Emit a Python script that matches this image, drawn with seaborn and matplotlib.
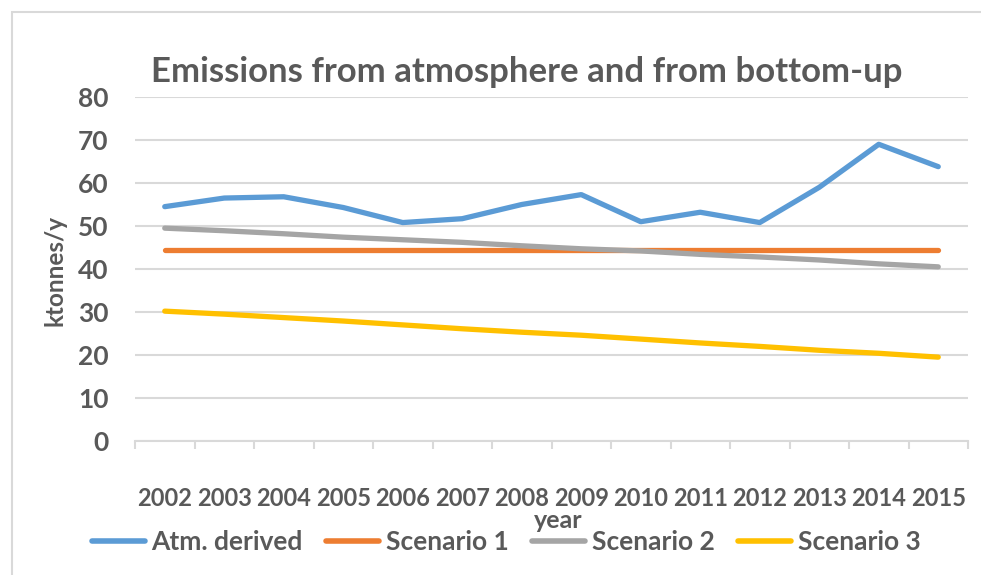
import matplotlib
matplotlib.use("Agg")
import matplotlib.pyplot as plt
import seaborn as sns
import pandas as pd
import numpy as np
from matplotlib.patches import Rectangle
from matplotlib.lines import Line2D

years = ["2002", "2003", "2004", "2005", "2006", "2007", "2008",
         "2009", "2010", "2011", "2012", "2013", "2014", "2015"]
atm_derived = [54.5, 56.5, 56.8, 54.3, 50.8, 51.7, 55.0, 57.3, 51.0, 53.2, 50.8, 59.0, 69.0, 63.8]
scenario1 = [44.5] * 14
scenario2 = [49.5, 48.9, 48.2, 47.4, 46.8, 46.2, 45.4, 44.7, 44.2, 43.4, 42.8, 42.1, 41.2, 40.5]
scenario3 = [30.2, 29.5, 28.7, 27.9, 27.0, 26.1, 25.3, 24.6, 23.7, 22.8, 22.0, 21.1, 20.4, 19.5]
series_names = ["Atm. derived", "Scenario 1", "Scenario 2", "Scenario 3"]
colors = ["#5B9BD5", "#ED7D31", "#A5A5A5", "#FFC000"]

sns.set_theme(style="white")
plt.rcParams['font.family'] = ['Lato', 'DejaVu Sans']

rows = []
for name, vals in zip(series_names, [atm_derived, scenario1, scenario2, scenario3]):
    for i, v in enumerate(vals):
        rows.append({"idx": i, "value": v, "series": name})
df = pd.DataFrame(rows)

fig = plt.figure(figsize=(9.81, 5.75), dpi=100)
ax = fig.add_axes([135 / 981, 1 - 441 / 575, (968 - 135) / 981, (441 - 97) / 575])

sns.lineplot(data=df, x="idx", y="value", hue="series", hue_order=series_names,
             palette=colors, linewidth=3.8, ax=ax, legend=False,
             solid_capstyle="round")

txt = "#595959"
ax.set_xlim(-0.5, 13.5)
ax.set_ylim(0, 80)
ax.set_yticks(range(0, 81, 10))
ax.yaxis.grid(True, color="#D9D9D9", linewidth=1.5)
ax.set_axisbelow(True)
for s in ["top", "right", "left"]:
    ax.spines[s].set_visible(False)
ax.spines["bottom"].set_color("#D9D9D9")
ax.spines["bottom"].set_linewidth(1.5)

ax.set_xticks(np.arange(-0.5, 14, 1.0))
ax.set_xticklabels([])
ax.tick_params(axis="x", which="major", bottom=True, length=6, width=1.5,
               color="#D9D9D9", direction="out")
ax.set_xticks(range(len(years)), minor=True)
ax.set_xticklabels(years, minor=True, fontsize=17, fontweight="bold", color=txt)
ax.tick_params(axis="x", which="minor", bottom=True, length=0, pad=33)
ax.tick_params(axis="y", length=0, pad=19, labelsize=19, labelcolor=txt)
for lab in ax.get_yticklabels():
    lab.set_fontweight("bold")
ax.set_xlabel("")
ax.set_ylabel("")

fig.text(55 / 981, 1 - 270 / 575, "ktonnes/y", rotation=90, ha="center", va="center",
         fontsize=17.5, fontweight="bold", color=txt)
fig.text(558 / 981, 1 - 521 / 575, "year", ha="center", va="center",
         fontsize=18, fontweight="bold", color=txt)
fig.text(527 / 981, 1 - 72 / 575, "Emissions from atmosphere and from bottom-up",
         ha="center", va="center", fontsize=25, fontweight="bold", color=txt)

handles = [Line2D([0], [0], color=c, linewidth=4, solid_capstyle="round") for c in colors]
leg = fig.legend(handles, series_names, loc="center", bbox_to_anchor=(506 / 981, 1 - 542 / 575),
                 ncol=4, frameon=False, handlelength=2.0, handletextpad=0.25, columnspacing=0.9,
                 borderpad=0, prop={"size": 19, "weight": "bold"})
for t in leg.get_texts():
    t.set_color(txt)

fig.patches.append(Rectangle((12 / 981, -0.1), 1.2, 1 - 12 / 575 + 0.1, transform=fig.transFigure,
                             fill=False, edgecolor="#D9D9D9", linewidth=1.5))

fig.savefig("out.png", dpi=100)
